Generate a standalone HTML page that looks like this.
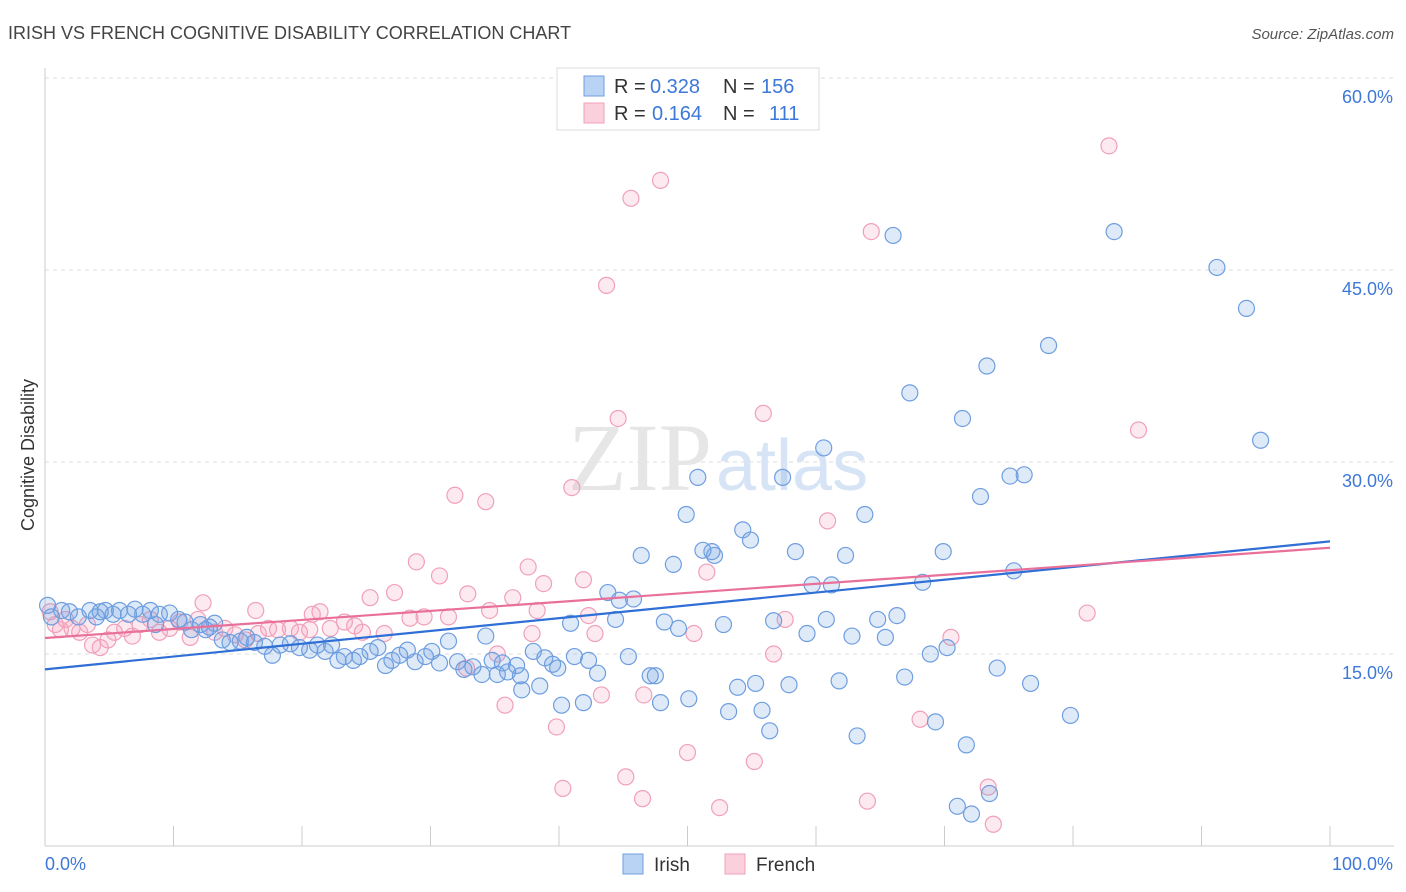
<!DOCTYPE html>
<html><head><meta charset="utf-8"><style>
body{margin:0;background:#fff;font-family:"Liberation Sans",sans-serif;}
svg{display:block}
</style></head><body>
<svg id="chart" width="1406" height="892">
<text x="8" y="39" font-size="18" fill="#444">IRISH VS FRENCH COGNITIVE DISABILITY CORRELATION CHART</text>
<text x="1394" y="39" font-size="15" fill="#555" font-style="italic" text-anchor="end">Source: ZipAtlas.com</text>
<text transform="translate(34,455) rotate(-90)" font-size="18" fill="#333" text-anchor="middle">Cognitive Disability</text>
<g id="grid"></g>
<text x="712" y="490" font-size="96" font-family="Liberation Serif,serif" fill="#e6e6e6" text-anchor="end">ZIP</text>
<text x="716" y="490" font-size="72" fill="#d6e4f5">atlas</text>
<g id="pts"></g>
<g id="lines"></g>
<g>
<rect x="557" y="68" width="262" height="62" fill="#fff" stroke="#ddd"/>
<rect x="584" y="76" width="20" height="20" fill="#b9d3f5" stroke="#6e9ee0"/>
<rect x="584" y="103" width="20" height="20" fill="#fbd0dd" stroke="#f0a0b8"/>
<text x="614" y="93" font-size="20" fill="#333">R =</text>
<text x="650" y="93" font-size="20" fill="#3d78d8">0.328</text>
<text x="723" y="93" font-size="20" fill="#333">N =</text>
<text x="761" y="93" font-size="20" fill="#3d78d8">156</text>
<text x="614" y="120" font-size="20" fill="#333">R =</text>
<text x="652" y="120" font-size="20" fill="#3d78d8">0.164</text>
<text x="723" y="120" font-size="20" fill="#333">N =</text>
<text x="769" y="120" font-size="20" fill="#3d78d8">111</text>
</g>
<g>
<rect x="623" y="854" width="20" height="20" fill="#b9d3f5" stroke="#6e9ee0"/>
<text x="654" y="871" font-size="19" fill="#333">Irish</text>
<rect x="725" y="854" width="20" height="20" fill="#fbd0dd" stroke="#f0a0b8"/>
<text x="756" y="871" font-size="19" fill="#333">French</text>
</g>
<text x="45" y="870" font-size="18" fill="#3d78d8">0.0%</text>
<text x="1393" y="870" font-size="18" fill="#3d78d8" text-anchor="end">100.0%</text>
</svg>
<script>
const yTicks=[15,30,45,60];
const xTicks=[0,10,20,30,40,50,60,70,80,90,100];
const irishX=[66.0,83.2,91.2,93.5,78.1,73.3,67.3,71.4,94.6,60.6,50.8,57.4,75.1,76.2,72.8,49.9,63.8,54.3,54.9,46.4,51.2,51.9,52.1,58.4,62.3,69.9,48.9,75.4,43.8,44.7,45.8,59.7,61.2,68.3,40.9,44.4,48.2,49.3,52.8,56.7,60.8,64.8,66.3,34.3,31.4,59.3,62.8,65.4,70.2,68.9,45.4,38.0,38.9,39.5,39.9,41.2,42.3,43.0,47.1,47.5,36.7,35.6,34.8,33.3,32.6,34.0,35.2,36.0,37.0,74.1,76.7,66.9,61.8,38.5,37.1,53.9,55.3,57.9,50.1,47.9,41.9,40.2,53.2,55.8,79.8,69.3,56.4,63.2,71.7,71.0,73.5,72.1,
0.2,0.5,1.3,1.9,2.6,3.5,4.0,4.7,5.3,5.8,6.5,7.0,7.6,8.2,8.9,9.7,10.4,10.9,11.4,12.1,12.8,13.2,13.8,14.4,15.2,15.7,16.3,17.1,17.7,18.3,19.1,19.8,20.6,21.2,21.8,22.3,22.8,23.3,24.0,24.5,25.3,25.9,26.5,27.0,27.6,28.2,28.8,29.6,30.1,30.7,32.1,4.3,8.6,12.5];
const irishY=[47.7,48.0,45.2,42.0,39.1,37.5,35.4,33.4,31.7,31.1,28.8,28.8,28.9,29.0,27.3,25.9,25.9,24.7,23.9,22.7,23.1,23.0,22.7,23.0,22.7,23.0,22.0,21.5,19.8,19.2,19.3,20.4,20.4,20.6,17.4,17.7,17.5,17.0,17.3,17.6,17.7,17.7,18.0,16.4,16.0,16.6,16.4,16.3,15.5,15.0,14.8,15.2,14.7,14.2,13.9,14.8,14.5,13.5,13.3,13.3,14.1,14.3,14.5,14.0,13.8,13.4,13.4,13.6,13.3,13.9,12.7,13.2,12.9,12.5,12.2,12.4,12.7,12.6,11.5,11.2,11.2,11.0,10.5,10.6,10.2,9.7,9.0,8.6,7.9,3.1,4.1,2.5,
18.8,17.9,18.4,18.3,17.9,18.4,17.9,18.4,18.1,18.4,18.1,18.5,18.1,18.4,18.1,18.2,17.7,17.5,16.9,17.3,17.1,17.4,16.1,15.9,16.0,16.3,15.9,15.6,14.9,15.7,15.8,15.5,15.3,15.7,15.2,15.7,14.5,14.8,14.5,14.8,15.2,15.5,14.1,14.5,14.9,15.3,14.4,14.8,15.2,14.3,14.4,18.3,17.3,16.9];
const frenchX=[82.8,47.9,45.6,64.3,43.7,55.9,85.1,44.6,31.9,34.3,41.0,60.9,28.9,30.7,37.6,38.8,41.9,51.5,81.1,27.2,32.9,36.4,38.3,28.4,29.5,31.4,34.6,12.3,16.4,20.8,21.4,25.3,42.3,57.6,70.5,37.9,42.8,50.5,26.4,35.2,32.8,56.7,35.8,43.3,46.6,68.1,39.8,50.0,55.2,45.2,40.3,46.5,52.5,64.0,73.4,73.8,
0.4,0.8,1.2,1.6,2.1,2.7,3.3,3.7,4.3,4.9,5.4,6.2,6.8,7.4,8.2,8.9,9.7,10.5,11.3,11.9,13.2,14.0,14.8,15.6,16.6,17.4,18.1,19.1,19.8,20.6,22.2,23.3,24.1,24.7];
const frenchY=[54.7,52.0,50.6,48.0,43.8,33.8,32.5,33.4,27.4,26.9,28.0,25.4,22.2,21.1,21.8,20.5,20.8,21.4,18.2,19.8,19.7,19.4,18.4,17.8,17.9,17.9,18.4,19.0,18.4,18.1,18.3,19.4,18.0,17.7,16.3,16.6,16.6,16.6,16.6,15.0,13.9,15.0,11.0,11.8,11.8,9.9,9.3,7.3,6.6,5.4,4.5,3.7,3.0,3.5,4.6,1.7,
18.3,17.3,16.9,17.7,17.0,16.7,17.3,15.7,15.5,16.1,16.7,17.0,16.4,17.3,17.7,16.7,17.0,17.5,16.3,17.7,16.7,17.0,16.5,16.1,16.6,17.0,16.9,17.0,16.7,16.9,17.0,17.5,17.2,16.7];
const trendIntercept=[13.8,16.25];
const trendEnd=[23.8,23.3];
const NS='http://www.w3.org/2000/svg';
const X=v=>45+v*12.85, Y=v=>846-v*12.8;
function mk(tag,at,parent){const e=document.createElementNS(NS,tag);for(const k in at)e.setAttribute(k,at[k]);parent.appendChild(e);return e;}
const grid=document.getElementById('grid');
yTicks.forEach(t=>{
 const l=mk('line',{x1:45,x2:1394,y1:Y(t),y2:Y(t),stroke:'#ddd','stroke-dasharray':'4,4'},grid);
 
 
 const tx=mk('text',{x:1393,y:Y(t)+25,'font-size':18,fill:'#3d78d8','text-anchor':'end'},grid);
 tx.textContent=t.toFixed(1)+'%';
 
 
});
const ax=mk('line',{x1:45,x2:1394,y1:846,y2:846,stroke:'#ccc'},grid);


const ay=mk('line',{x1:45,x2:45,y1:68,y2:846,stroke:'#ccc'},grid);


xTicks.forEach(t=>{
 const l=mk('line',{x1:X(t),x2:X(t),y1:826,y2:846,stroke:'#ccc'},grid);
 
 
});
const pts=document.getElementById('pts');
frenchX.forEach((v,i)=>{
 const c=mk('circle',{cx:X(v),cy:Y(frenchY[i]),r:8,fill:'rgba(245,160,190,0.22)',stroke:'#f0a0b8','stroke-width':1.2},pts);
 
 
});
irishX.forEach((v,i)=>{
 const c=mk('circle',{cx:X(v),cy:Y(irishY[i]),r:8,fill:'rgba(110,158,224,0.22)',stroke:'#6e9ee0','stroke-width':1.2},pts);
 
 
});
const lines=document.getElementById('lines');
const cols=['#2f6fd6','#e8709a'];
const names=['irish-trend-line','french-trend-line'];
trendIntercept.forEach((b,i)=>{
 const l=mk('line',{x1:X(0),y1:Y(b),x2:X(100),y2:Y(trendEnd[i]),stroke:cols[i],'stroke-width':2.2},lines);
 
 
});
</script>
</body></html>
